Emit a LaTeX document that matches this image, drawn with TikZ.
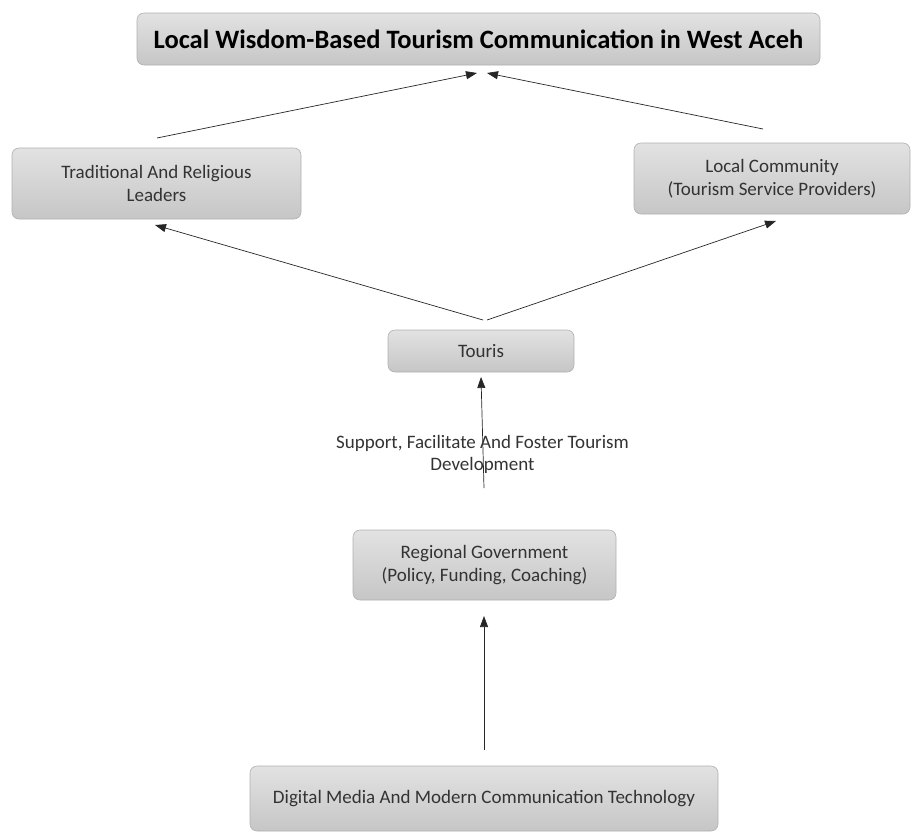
\documentclass[tikz,border=0pt]{standalone}
\usepackage{fontspec}
\setmainfont{Carlito}
\usetikzlibrary{arrows.meta}
\definecolor{boxtop}{HTML}{E2E2E2}
\definecolor{boxbot}{HTML}{C6C6C6}
\definecolor{boxline}{HTML}{B0B0B0}
\definecolor{txt}{HTML}{333333}
\tikzset{
  card/.style={rounded corners=7pt, top color=boxtop, bottom color=boxbot,
    draw=boxline, line width=0.6pt, align=center, text=txt,
    font=\fontsize{19}{23.5}\selectfont, inner sep=0pt},
  link/.style={-{Triangle[length=11pt,width=8pt]}, line width=0.7pt, black!85},
}
\begin{document}
\begin{tikzpicture}[x=1pt,y=-1pt]
\useasboundingbox (0,0) rectangle (912,833);

% boxes
\node[card, minimum width=683pt, minimum height=52pt, text=black,
      font=\fontsize{26.5}{30}\bfseries\selectfont] (title) at (478.5,39) {Local Wisdom-Based Tourism Communication in West Aceh};
\node[card, minimum width=289pt, minimum height=71pt] (lead) at (156.5,183.5) {Traditional And Religious\\Leaders};
\node[card, minimum width=276pt, minimum height=71pt] (comm) at (772,178.5) {Local Community\\(Tourism Service Providers)};
\node[card, minimum width=186pt, minimum height=42pt] (touris) at (481,351) {Touris};
\node[card, minimum width=263pt, minimum height=70pt] (gov) at (484.5,565) {Regional Government\\(Policy, Funding, Coaching)};
\node[card, minimum width=468pt, minimum height=65pt] (digi) at (484,798.5) {Digital Media And Modern Communication Technology};

% free ends of the connectors
\coordinate (tL) at (477,73);
\coordinate (tR) at (487,73);
\coordinate (lS) at (157,138);
\coordinate (cS) at (763,129);
\coordinate (uL) at (483,320);
\coordinate (uR) at (487,320);
\coordinate (lT) at (155,225);
\coordinate (cT) at (776,221);
\coordinate (sS) at (484,488);
\coordinate (sT) at (481,377);
\coordinate (dS) at (484,750);
\coordinate (dT) at (484,616);

\draw[link] (lS) -- (tL);
\draw[link] (cS) -- (tR);
\draw[link] (uL) -- (lT);
\draw[link] (uR) -- (cT);
\draw[link] (sS) -- (sT);
\draw[link] (dS) -- (dT);

\node[text=txt, align=center, font=\fontsize{19}{22}\selectfont] (lbl) at (482.5,454)
  {Support, Facilitate And Foster Tourism\\Development};
\end{tikzpicture}
\end{document}
